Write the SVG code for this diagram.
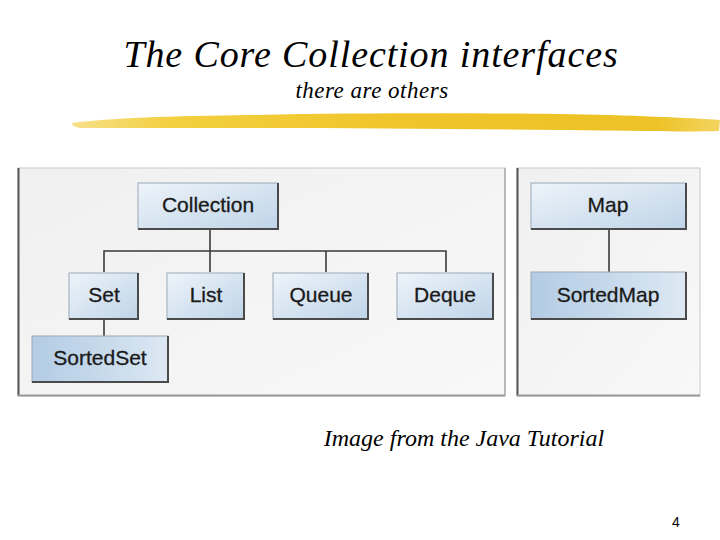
<svg xmlns="http://www.w3.org/2000/svg" width="720" height="540" viewBox="0 0 720 540">
<defs>
<style>
.title{font-family:"Liberation Serif",serif;font-style:italic;fill:#000}
.lbl{font-family:"Liberation Sans",Arial,sans-serif;font-size:21px;fill:#1a1a1a;text-anchor:middle;stroke:#1a1a1a;stroke-width:0.3}
.box{fill:url(#boxg);stroke:#9aa8b8;stroke-width:1}
.shadow{fill:none;stroke:#4a4a4a;stroke-width:2}
.conn{stroke:#3a3a3a;stroke-width:1.6;fill:none}
</style>
<linearGradient id="boxg" x1="0" y1="0" x2="1" y2="1">
<stop offset="0" stop-color="#eef4fa"/>
<stop offset="1" stop-color="#bfd4e8"/>
</linearGradient>
<linearGradient id="boxg2" x1="0" y1="0" x2="1" y2="0">
<stop offset="0" stop-color="#b3cce4"/>
<stop offset="0.5" stop-color="#c6d9eb"/>
<stop offset="1" stop-color="#dde8f3"/>
</linearGradient>
<linearGradient id="panelg" x1="0" y1="0" x2="1" y2="1">
<stop offset="0" stop-color="#f0f0f0"/>
<stop offset="1" stop-color="#f8f8f8"/>
</linearGradient>
<linearGradient id="brush" x1="0" y1="0" x2="1" y2="0">
<stop offset="0" stop-color="#f6e08a"/>
<stop offset="0.15" stop-color="#f3d040"/>
<stop offset="0.5" stop-color="#f0c52a"/>
<stop offset="0.9" stop-color="#edc226"/>
<stop offset="1" stop-color="#f3d460"/>
</linearGradient>
</defs>
<rect width="720" height="540" fill="#fff"/>
<text class="title" x="371" y="67" font-size="38" letter-spacing="0.9" text-anchor="middle">The Core Collection interfaces</text>
<text class="title" x="372" y="98" font-size="23" letter-spacing="0.5" text-anchor="middle">there are others</text>
<path d="M72,123 C110,118 170,116 250,115 C360,113 470,113 560,114 C630,115 690,118 720,120 L719,131 C690,132 640,131 560,130 C460,129 360,128 260,128 C180,128 120,128 80,128 C74,127 72,125 72,123 Z" fill="url(#brush)"/>
<g id="panel-left">
<rect x="18" y="168" width="487" height="228" fill="url(#panelg)" stroke="#c8c8c8"/>
<line x1="18.5" y1="168" x2="18.5" y2="396" stroke="#555" stroke-width="2"/>
<line x1="18" y1="395.5" x2="505" y2="395.5" stroke="#999" stroke-width="2"/>
<line x1="505" y1="168" x2="505" y2="396" stroke="#aaa" stroke-width="1.5"/>
</g>
<g id="panel-right">
<rect x="517" y="168" width="183" height="228" fill="url(#panelg)" stroke="#c8c8c8"/>
<line x1="517.5" y1="168" x2="517.5" y2="396" stroke="#555" stroke-width="2"/>
<line x1="517" y1="395.5" x2="700" y2="395.5" stroke="#999" stroke-width="2"/>
</g>
<g id="connectors">
<line class="conn" x1="210" y1="229" x2="210" y2="272"/>
<polyline class="conn" points="104,272 104,251 446,251 446,272"/>
<line class="conn" x1="326" y1="251" x2="326" y2="272"/>
<line class="conn" x1="104" y1="319" x2="104" y2="336"/>
<line class="conn" x1="609" y1="229" x2="609" y2="272"/>
</g>
<g id="node-collection">
<rect class="box" x="138" y="183" width="140" height="46"/>
<polyline class="shadow" points="138,229 278,229 278,183"/>
<text class="lbl" x="208" y="212">Collection</text>
</g>
<g id="node-set">
<rect class="box" x="69" y="273" width="69" height="46"/>
<polyline class="shadow" points="69,319 138,319 138,273"/>
<text class="lbl" x="104" y="302">Set</text>
</g>
<g id="node-list">
<rect class="box" x="167" y="273" width="77" height="46"/>
<polyline class="shadow" points="167,319 244,319 244,273"/>
<text class="lbl" x="206" y="302">List</text>
</g>
<g id="node-queue">
<rect class="box" x="273" y="273" width="95" height="46"/>
<polyline class="shadow" points="273,319 368,319 368,273"/>
<text class="lbl" x="321" y="302">Queue</text>
</g>
<g id="node-deque">
<rect class="box" x="397" y="273" width="96" height="46"/>
<polyline class="shadow" points="397,319 493,319 493,273"/>
<text class="lbl" x="445" y="302">Deque</text>
</g>
<g id="node-sortedset">
<rect class="box" x="32" y="336" width="136" height="46" style="fill:url(#boxg2)"/>
<polyline class="shadow" points="32,382 168,382 168,336"/>
<text class="lbl" x="100" y="365">SortedSet</text>
</g>
<g id="node-map">
<rect class="box" x="531" y="183" width="155" height="46"/>
<polyline class="shadow" points="531,229 686,229 686,183"/>
<text class="lbl" x="608" y="212">Map</text>
</g>
<g id="node-sortedmap">
<rect class="box" x="531" y="272" width="155" height="47" style="fill:url(#boxg2)"/>
<polyline class="shadow" points="531,319 686,319 686,272"/>
<text class="lbl" x="608" y="302">SortedMap</text>
</g>
<text class="title" x="464" y="446" font-size="24" text-anchor="middle">Image from the Java Tutorial</text>
<text x="676" y="527" font-family="Liberation Sans,Arial,sans-serif" font-size="14" text-anchor="middle" fill="#000">4</text>
</svg>
